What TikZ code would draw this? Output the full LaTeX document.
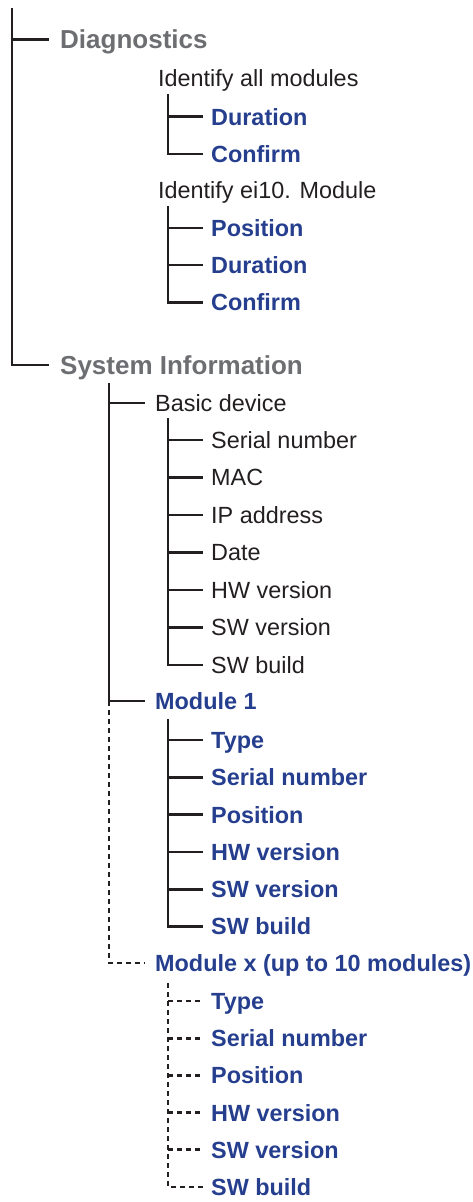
\documentclass[tikz,border=0pt]{standalone}
\usepackage{fontspec}
\setmainfont{Liberation Sans}
\usepackage{xcolor}
\usepackage{tikz}
\usetikzlibrary{calc}
\usetikzlibrary{positioning}

\definecolor{menuink}{HTML}{231F20}
\definecolor{menugray}{HTML}{6D6E71}
\definecolor{menublue}{HTML}{253E8E}

\tikzset{
	tree/.style={line width=2.8pt,menuink},
	dtree/.style={tree,dash pattern=on 5pt off 4pt},
	head/.style={anchor=west,inner ysep=0pt,inner xsep=11pt,text height=18.6pt,text depth=0pt,text=menugray,font=\fontsize{26}{30}\selectfont\bfseries},
	group/.style={anchor=west,inner ysep=0pt,inner xsep=10pt,text height=16.8pt,text depth=0pt,text=menuink,font=\fontsize{23.4}{28}\selectfont},
	groupblue/.style={group,text=menublue,font=\fontsize{23.4}{28}\selectfont\bfseries},
	leaf/.style={group,inner xsep=8pt},
	leafblue/.style={groupblue,inner xsep=8pt}
}

\begin{document}
\begin{tikzpicture}[x=1pt,y=-1pt]
		\useasboundingbox (0,0) rectangle (473,1202);
		% main trunk
		\coordinate (trunk) at (12,8);
		\node[head] (diag) at (49,39.5) {Diagnostics};
		\node[head] (sysinfo) at (49,365) {System Information};
		\draw[tree] (trunk) |- (sysinfo.west);
		\draw[tree] (trunk |- diag.west) -- (diag.west);
		% diagnostics
		\node[group] (idall) at (148,78.5) {Identify all modules};
		\coordinate (idallbar) at (168,94);
		\node[leafblue] (idalldur) at (203,116.7) {Duration};
		\node[leafblue] (idallconf) at (203,154) {Confirm};
		\draw[tree] (idallbar) |- (idallconf.west);
		\draw[tree] (idallbar |- idalldur.west) -- (idalldur.west);
		\node[group] (idmod) at (148,190.5) {Identify ei10. Module};
		\coordinate (idmodbar) at (168,206);
		\node[leafblue] (idmodpos) at (203,228) {Position};
		\node[leafblue] (idmoddur) at (203,265) {Duration};
		\node[leafblue] (idmodconf) at (203,302.5) {Confirm};
		\draw[tree] (idmodbar) |- (idmodconf.west);
		\draw[tree] (idmodbar |- idmodpos.west) -- (idmodpos.west);
		\draw[tree] (idmodbar |- idmoddur.west) -- (idmoddur.west);
		% system information
		\coordinate (sysbar) at (109,383);
		\node[group] (basic) at (145,403) {Basic device};
		\node[groupblue] (modone) at (145,701) {Module 1};
		\node[groupblue] (modx) at (145,963) {Module x (up to 10 modules)};
		\draw[tree] (sysbar) |- (modone.west);
		\draw[tree] (sysbar |- basic.west) -- (basic.west);
		\draw[dtree] (sysbar |- modone.west) |- (modx.west);
		% basic device
		\coordinate (basicbar) at (168,418);
		\node[leaf] (bserial) at (203,440) {Serial number};
		\node[leaf] (bmac) at (203,477.5) {MAC};
		\node[leaf] (bip) at (203,515) {IP address};
		\node[leaf] (bdate) at (203,552.5) {Date};
		\node[leaf] (bhw) at (203,590) {HW version};
		\node[leaf] (bsw) at (203,627.5) {SW version};
		\node[leaf] (bbuild) at (203,665) {SW build};
		\draw[tree] (basicbar) |- (bbuild.west);
		\draw[tree] (basicbar |- bserial.west) -- (bserial.west);
		\draw[tree] (basicbar |- bmac.west) -- (bmac.west);
		\draw[tree] (basicbar |- bip.west) -- (bip.west);
		\draw[tree] (basicbar |- bdate.west) -- (bdate.west);
		\draw[tree] (basicbar |- bhw.west) -- (bhw.west);
		\draw[tree] (basicbar |- bsw.west) -- (bsw.west);
		% module 1
		\coordinate (modonebar) at (168,719);
		\node[leafblue] (mtype) at (203,740) {Type};
		\node[leafblue] (mserial) at (203,777.3) {Serial number};
		\node[leafblue] (mpos) at (203,814.6) {Position};
		\node[leafblue] (mhw) at (203,851.9) {HW version};
		\node[leafblue] (msw) at (203,889.2) {SW version};
		\node[leafblue] (mbuild) at (203,926.5) {SW build};
		\draw[tree] (modonebar) |- (mbuild.west);
		\draw[tree] (modonebar |- mtype.west) -- (mtype.west);
		\draw[tree] (modonebar |- mserial.west) -- (mserial.west);
		\draw[tree] (modonebar |- mpos.west) -- (mpos.west);
		\draw[tree] (modonebar |- mhw.west) -- (mhw.west);
		\draw[tree] (modonebar |- msw.west) -- (msw.west);
		% module x
		\coordinate (modxbar) at (168,983);
		\node[leafblue] (xtype) at (203,1001) {Type};
		\node[leafblue] (xserial) at (203,1038.2) {Serial number};
		\node[leafblue] (xpos) at (203,1075.4) {Position};
		\node[leafblue] (xhw) at (203,1112.6) {HW version};
		\node[leafblue] (xsw) at (203,1149.8) {SW version};
		\node[leafblue] (xbuild) at (203,1187) {SW build};
		\draw[dtree] (modxbar) |- (xbuild.west);
		\draw[dtree] (modxbar |- xtype.west) -- (xtype.west);
		\draw[dtree] (modxbar |- xserial.west) -- (xserial.west);
		\draw[dtree] (modxbar |- xpos.west) -- (xpos.west);
		\draw[dtree] (modxbar |- xhw.west) -- (xhw.west);
		\draw[dtree] (modxbar |- xsw.west) -- (xsw.west);
	\end{tikzpicture}
\end{document}
